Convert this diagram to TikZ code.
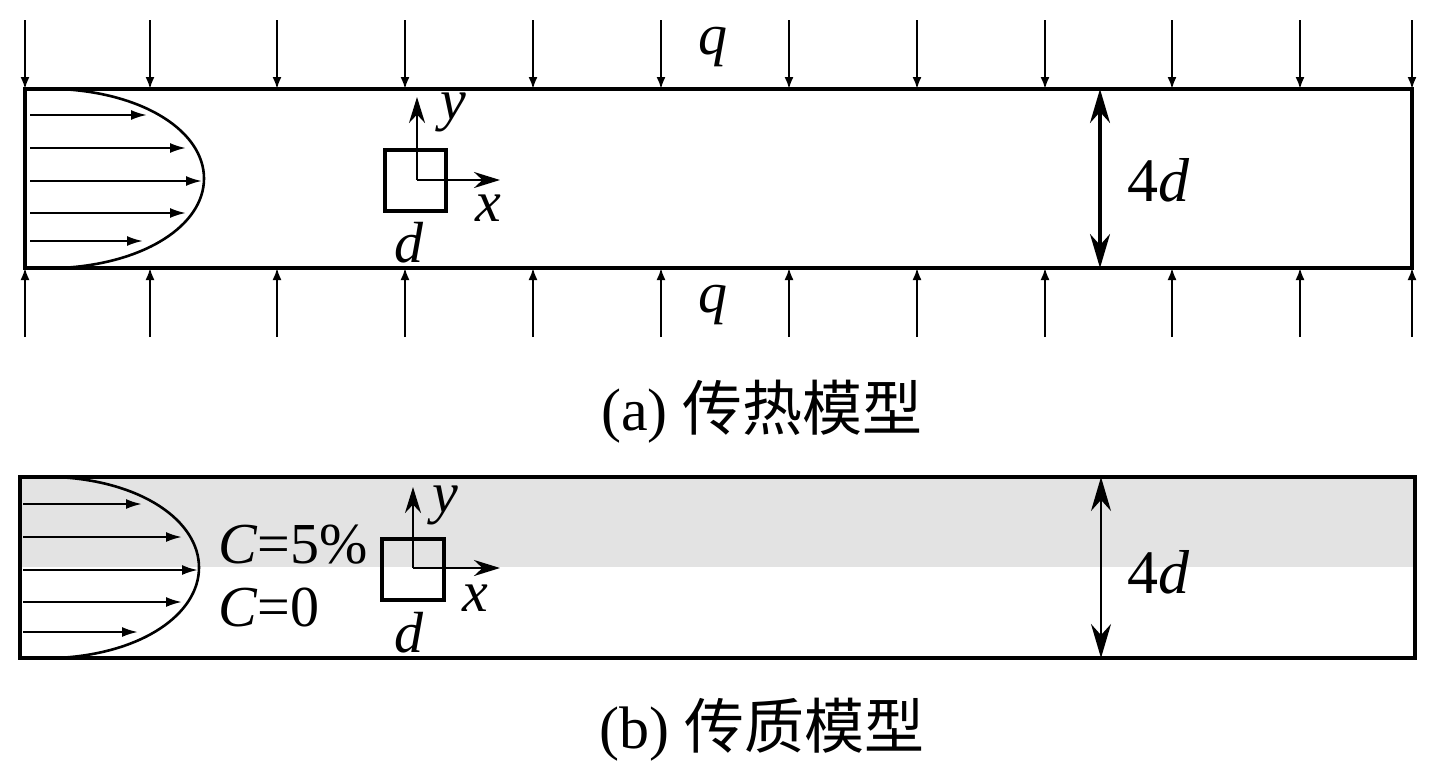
\documentclass[tikz,border=0pt]{standalone}
\usepackage{fontspec}
\setmainfont{Liberation Serif}
\newfontfamily\cjk{Noto Sans CJK SC}
\usetikzlibrary{arrows.meta}
\tikzset{
  wall/.style={line width=2pt},
  flux/.style={line width=1pt,-{Latex[length=6pt,width=4.5pt]}},
  flow/.style={line width=1.1pt,-{Latex[length=8pt,width=5pt]}},
  axis/.style={line width=1.3pt,-{Stealth[length=13pt,width=8pt]}},
  dimline/.style={{Stealth[length=17pt,width=10pt]}-{Stealth[length=17pt,width=10pt]}},
  lab/.style={font=\fontsize{29}{30}\selectfont,inner sep=0pt},
  caption/.style={font=\fontsize{30}{32}\selectfont,inner sep=0pt},
}
\begin{document}
\begin{tikzpicture}[x=0.5pt,y=-0.5pt]
\useasboundingbox (0,0) rectangle (1439,772);
% (a) heat transfer model
\draw[wall] (25,89) rectangle (1412,268);
\foreach \x in {25,150,277,405,533,661,789,917,1045,1172,1300,1412} {
  \draw[flux] (\x,20) -- (\x,89);
  \draw[flux] (\x,337) -- (\x,268);
}
\node[lab] (qtop) at (713,47) {\textit{q}};
\node[lab] (qbot) at (713,305) {\textit{q}};
% velocity profile
\draw[line width=1.3pt] (60,89) .. controls (145,93) and (204,132) .. (204,178.5)
  .. controls (204,225) and (145,264) .. (60,268);
\foreach \y/\e in {115/147,148/186,181/202,213/186,241/143}
  \draw[flow] (30,\y) -- (\e,\y);
% local frame
\draw[wall] (385,150) rectangle (446,211);
\coordinate (oa) at (417,180);
\draw[axis] (oa) -- (417,97);
\draw[axis] (oa) -- (500,180);
\node[lab] (ya) at (453,112) {\textit{y}};
\node[lab] (xa) at (488,208) {\textit{x}};
\node[lab] (da) at (409,243) {\textit{d}};
% height
\draw[dimline,line width=1.6pt] (1100,89) -- (1100,268);
\node[lab,font=\fontsize{31}{32}\selectfont] (ha) at (1159,180) {4\textit{d}};
\node[caption] (capa) at (762,412) {(a) {\cjk 传热模型}};
% (b) mass transfer model
\fill[gray!22] (20,477) rectangle (1415,567);
\draw[wall] (20,477) rectangle (1415,658);
\draw[line width=1.3pt] (57,477) .. controls (142,481) and (199,521) .. (199,567.5)
  .. controls (199,614) and (142,654) .. (57,658);
\foreach \y/\e in {504/142,537/182,570/198,602/182,632/138}
  \draw[flow] (23,\y) -- (\e,\y);
\node[lab,anchor=west] (cb) at (218,545) {\textit{C}=5\%};
\node[lab,anchor=west] (cz) at (218,607) {\textit{C}=0};
\draw[wall] (382,539) rectangle (444,600);
\coordinate (ob) at (413,568);
\draw[axis] (ob) -- (413,487);
\draw[axis] (ob) -- (500,568);
\node[lab] (yb) at (445,505) {\textit{y}};
\node[lab] (xb) at (475,598) {\textit{x}};
\node[lab] (db) at (409,633) {\textit{d}};
\draw[dimline,line width=1pt] (1101,477) -- (1101,658);
\node[lab,font=\fontsize{31}{32}\selectfont] (hb) at (1159,572) {4\textit{d}};
\node[caption] (capb) at (762,730) {(b) {\cjk 传质模型}};
\end{tikzpicture}
\end{document}
